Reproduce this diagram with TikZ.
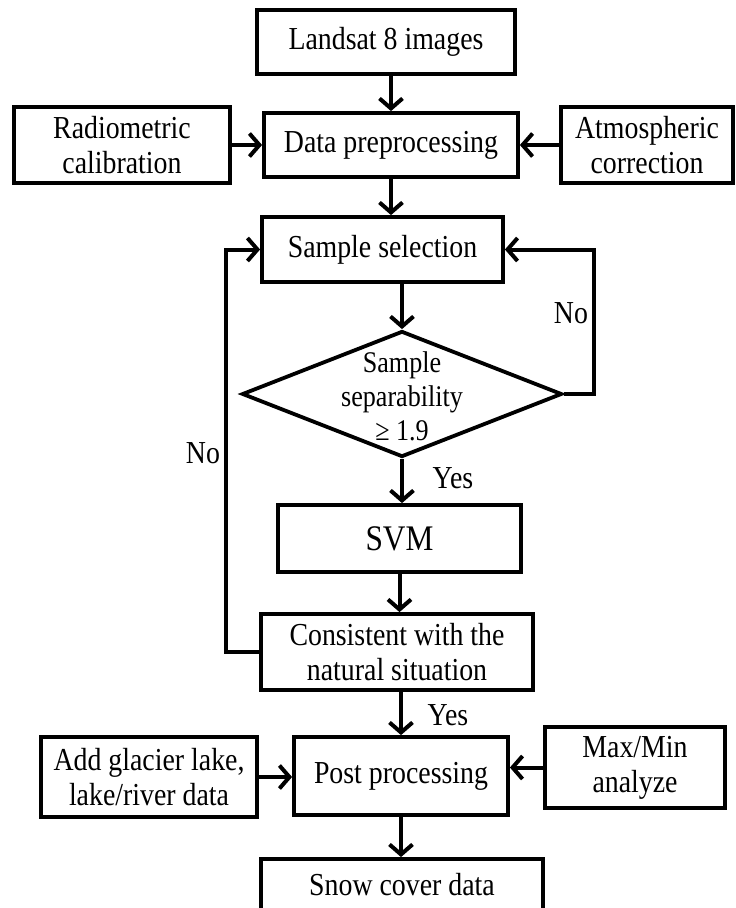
\documentclass[tikz,border=0pt]{standalone}
\usepackage{fontspec}
\setmainfont{Liberation Serif}[FakeStretch=0.87]
\usetikzlibrary{arrows.meta, shapes.geometric}

\begin{document}
\begin{tikzpicture}[x=1pt, y=-1pt,
  font=\fontsize{32}{35}\selectfont,
  block/.style={draw, line width=3.8pt, align=center, inner sep=0pt},
  decision/.style={draw, diamond, line width=3.8pt, inner sep=0pt,
    minimum width=320pt, minimum height=126pt},
  flow/.style={line width=4pt, -{Straight Barb[length=10pt, width=23pt]}}]
  \useasboundingbox (0,0) rectangle (736,908);

  % main column
  \node[block, minimum width=258pt, minimum height=64pt] (landsat) at (386,42) {Landsat 8 images};
  \node[block, minimum width=254pt, minimum height=64pt] (prep) at (391,145) {Data preprocessing};
  \node[block, minimum width=241pt, minimum height=65pt] (sample) at (382.5,249.5) {Sample selection};
  \node[decision] (check) at (402,394) {};
  \node[align=center, yshift=-2pt, font=\fontsize{30}{34}\selectfont] (checktext) at (check) {Sample\\separability\\≥ 1.9};
  \node[block, minimum width=243pt, minimum height=67pt, font=\fontsize{36}{40}\selectfont] (svm) at (399.5,538.5) {SVM};
  \node[block, minimum width=272pt, minimum height=76pt] (consist) at (397,652) {Consistent with the\\natural situation};
  \node[block, minimum width=214pt, minimum height=78pt] (post) at (401,776) {Post processing};
  \node[block, minimum width=282pt, minimum height=52pt] (snow) at (402,885) {Snow cover data};

  % side inputs
  \node[block, minimum width=216pt, minimum height=76pt] (radio) at (122,145) {Radiometric\\calibration};
  \node[block, minimum width=172pt, minimum height=76pt] (atmos) at (647,145) {Atmospheric\\correction};
  \node[block, minimum width=216pt, minimum height=80pt] (glacier) at (149,777) {Add glacier lake,\\lake/river data};
  \node[block, minimum width=180pt, minimum height=81pt] (maxmin) at (635,767.5) {Max/Min\\analyze};

  % labels
  \node (noright) at (571,313) {No};
  \node (noleft) at (203,453) {No};
  \node (yescheck) at (453,478) {Yes};
  \node (yesconsist) at (448,715) {Yes};

  % arrows
  \draw[flow] (prep |- landsat.south) -- (prep.north);
  \draw[flow] (radio.east) -- (radio.east -| prep.west);
  \draw[flow] (atmos.west) -- (atmos.west -| prep.east);
  \draw[flow] (prep.south) -- (prep.south |- sample.north);
  \draw[flow] (check |- sample.south) -- (check.north);
  \draw[flow] (check.east) -- ++(30,0) |- (sample.east);
  \draw[flow] (check.south) -- (check.south |- svm.north);
  \draw[flow] (svm.south) -- (svm.south |- consist.north);
  \draw[flow] (consist.west) -- ++(-33,0) |- (sample.west);
  \draw[flow] (post |- consist.south) -- (post.north);
  \draw[flow] (glacier.east) -- (glacier.east -| post.west);
  \draw[flow] (maxmin.west) -- (maxmin.west -| post.east);
  \draw[flow] (post.south) -- (post.south |- snow.north);
\end{tikzpicture}
\end{document}
